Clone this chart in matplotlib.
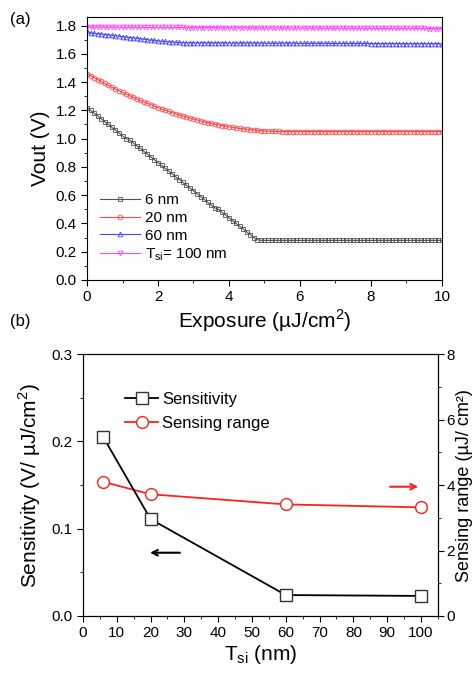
import numpy as np
import matplotlib
matplotlib.use("Agg")
import matplotlib.pyplot as plt
from matplotlib.ticker import MultipleLocator

plt.rcParams['font.family'] = ['Liberation Sans', 'DejaVu Sans']
plt.rcParams['mathtext.fontset'] = 'custom'
plt.rcParams['mathtext.rm'] = 'Liberation Sans'

# ---- panel (a): Vout vs exposure, sampled every 0.1 uJ/cm2 ----
exposure = np.round(np.arange(0, 101) * 0.1, 1)

vout_6nm = [
    1.22, 1.20, 1.18, 1.16, 1.14, 1.12, 1.10, 1.08, 1.06, 1.04,
    1.02, 1.00, 0.99, 0.97, 0.95, 0.93, 0.91, 0.89, 0.87, 0.85,
    0.83, 0.81, 0.79, 0.77, 0.75, 0.73, 0.71, 0.69, 0.67, 0.65,
    0.63, 0.61, 0.59, 0.57, 0.55, 0.53, 0.51, 0.50, 0.48, 0.46,
    0.44, 0.42, 0.40, 0.38, 0.36, 0.34, 0.32, 0.30, 0.285, 0.28,
    0.28, 0.28, 0.28, 0.28, 0.28, 0.28, 0.28, 0.28, 0.28, 0.28,
    0.28, 0.28, 0.28, 0.28, 0.28, 0.28, 0.28, 0.28, 0.28, 0.28,
    0.28, 0.28, 0.28, 0.28, 0.28, 0.28, 0.28, 0.28, 0.28, 0.28,
    0.28, 0.28, 0.28, 0.28, 0.28, 0.28, 0.28, 0.28, 0.28, 0.28,
    0.28, 0.28, 0.28, 0.28, 0.28, 0.28, 0.28, 0.28, 0.28, 0.28,
    0.28,
]
vout_20nm = [
    1.460, 1.446, 1.431, 1.417, 1.404, 1.390, 1.377, 1.364, 1.351, 1.339,
    1.327, 1.315, 1.303, 1.292, 1.281, 1.270, 1.259, 1.249, 1.239, 1.229,
    1.219, 1.210, 1.201, 1.192, 1.184, 1.176, 1.168, 1.160, 1.153, 1.145,
    1.138, 1.132, 1.125, 1.119, 1.113, 1.108, 1.102, 1.097, 1.092, 1.088,
    1.083, 1.079, 1.076, 1.072, 1.069, 1.066, 1.063, 1.061, 1.058, 1.056,
    1.055, 1.053, 1.052, 1.051, 1.051, 1.050, 1.050, 1.050, 1.050, 1.050,
    1.050, 1.050, 1.050, 1.050, 1.050, 1.050, 1.050, 1.050, 1.050, 1.050,
    1.050, 1.050, 1.050, 1.050, 1.050, 1.050, 1.050, 1.050, 1.050, 1.050,
    1.050, 1.050, 1.050, 1.050, 1.050, 1.050, 1.050, 1.050, 1.050, 1.050,
    1.050, 1.050, 1.050, 1.050, 1.050, 1.050, 1.050, 1.050, 1.050, 1.050,
    1.050,
]
vout_60nm = [
    1.760, 1.748, 1.745, 1.742, 1.739, 1.736, 1.733, 1.730, 1.727, 1.724,
    1.721, 1.718, 1.715, 1.712, 1.709, 1.706, 1.703, 1.700, 1.697, 1.694,
    1.691, 1.689, 1.687, 1.685, 1.683, 1.681, 1.680, 1.679, 1.678, 1.678,
    1.677, 1.677, 1.677, 1.677, 1.677, 1.677, 1.677, 1.677, 1.677, 1.677,
    1.676, 1.676, 1.676, 1.676, 1.676, 1.676, 1.676, 1.676, 1.676, 1.676,
    1.675, 1.675, 1.675, 1.675, 1.675, 1.675, 1.675, 1.675, 1.675, 1.675,
    1.674, 1.674, 1.674, 1.674, 1.674, 1.674, 1.674, 1.674, 1.674, 1.674,
    1.673, 1.673, 1.673, 1.673, 1.673, 1.673, 1.673, 1.673, 1.673, 1.673,
    1.672, 1.672, 1.672, 1.672, 1.672, 1.672, 1.672, 1.672, 1.672, 1.672,
    1.671, 1.671, 1.671, 1.671, 1.671, 1.671, 1.671, 1.671, 1.671, 1.671,
    1.670,
]
vout_100nm = [
    1.790, 1.790, 1.789, 1.789, 1.789, 1.789, 1.789, 1.788, 1.788, 1.788,
    1.788, 1.788, 1.788, 1.787, 1.787, 1.787, 1.787, 1.787, 1.787, 1.787,
    1.786, 1.786, 1.786, 1.786, 1.786, 1.786, 1.786, 1.786, 1.785, 1.785,
    1.785, 1.785, 1.785, 1.785, 1.785, 1.785, 1.785, 1.784, 1.784, 1.784,
    1.784, 1.784, 1.784, 1.784, 1.784, 1.784, 1.783, 1.783, 1.783, 1.783,
    1.783, 1.783, 1.783, 1.783, 1.783, 1.783, 1.782, 1.782, 1.782, 1.782,
    1.782, 1.782, 1.782, 1.782, 1.782, 1.782, 1.781, 1.781, 1.781, 1.781,
    1.781, 1.781, 1.781, 1.781, 1.781, 1.781, 1.780, 1.780, 1.780, 1.780,
    1.780, 1.780, 1.780, 1.780, 1.780, 1.780, 1.779, 1.779, 1.779, 1.779,
    1.779, 1.779, 1.779, 1.779, 1.779, 1.779, 1.778, 1.778, 1.778, 1.778,
    1.778,
]
series_a = [vout_6nm, vout_20nm, vout_60nm, vout_100nm]
labels_a = ["6 nm", "20 nm", "60 nm", "T$_{\\mathregular{si}}$= 100 nm"]
colors_a = ["#505050", "#ff4848", "#4848ff", "#ff48ff"]
markers_a = ["s", "o", "^", "v"]

# ---- panel (b): sensitivity and sensing range vs Tsi ----
tsi = [6, 20, 60, 100]
sensitivity = [0.205, 0.111, 0.024, 0.023]
sensing_range = [4.10, 3.72, 3.41, 3.32]

fig = plt.figure(figsize=(4.77, 6.73), dpi=100)

ax1 = fig.add_axes([0.1824, 0.5840, 0.7442, 0.3907])
for y, lab, c, m in zip(series_a, labels_a, colors_a, markers_a):
    ax1.plot(exposure, y, color=c, lw=0.8, marker=m, ms=3.4, mfc='none',
             mew=0.6, label=lab)
ax1.set_xlim(0, 10)
ax1.set_ylim(0, 1.86)
ax1.xaxis.set_major_locator(MultipleLocator(2))
ax1.xaxis.set_minor_locator(MultipleLocator(1))
ax1.yaxis.set_major_locator(MultipleLocator(0.2))
ax1.yaxis.set_minor_locator(MultipleLocator(0.1))
ax1.yaxis.set_major_formatter(plt.FormatStrFormatter('%.1f'))
ax1.tick_params(which='both', direction='out', labelsize=11, top=False, right=False)
ax1.tick_params(which='major', length=4)
ax1.tick_params(which='minor', length=2.5)
ax1.set_xlabel("Exposure (µJ/cm$^{\\mathregular{2}}$)", fontsize=15, labelpad=2)
ax1.set_ylabel("Vout (V)", fontsize=15, labelpad=4)
ax1.legend(loc='lower left', bbox_to_anchor=(0.02, 0.04), frameon=False,
           fontsize=11, handlelength=2.6, handletextpad=0.3, labelspacing=0.25,
           borderaxespad=0)

ax2 = fig.add_axes([0.174, 0.0847, 0.744, 0.389])
ax3 = ax2.twinx()
l1, = ax2.plot(tsi, sensitivity, color='black', lw=1.3, marker='s', ms=8,
               mfc='white', mec='#333333', mew=1.0, label="Sensitivity")
l2, = ax3.plot(tsi, sensing_range, color='#ff2020', lw=1.3, marker='o', ms=8.5,
               mfc='white', mec='#ff2020', mew=1.0, label="Sensing range")
ax2.set_zorder(ax3.get_zorder() + 1)
ax2.patch.set_visible(False)
ax2.set_xlim(0, 105)
ax2.set_ylim(0, 0.3)
ax3.set_ylim(0, 8)
ax2.xaxis.set_major_locator(MultipleLocator(10))
ax2.xaxis.set_minor_locator(MultipleLocator(5))
ax2.yaxis.set_major_locator(MultipleLocator(0.1))
ax2.yaxis.set_minor_locator(MultipleLocator(0.05))
ax3.yaxis.set_major_locator(MultipleLocator(2))
ax3.yaxis.set_minor_locator(MultipleLocator(1))
ax2.yaxis.set_major_formatter(plt.FormatStrFormatter('%.1f'))
for a in (ax2, ax3):
    a.tick_params(which='both', direction='out', labelsize=11)
    a.tick_params(which='major', length=4)
    a.tick_params(which='minor', length=2.5)
ax3.tick_params(axis='y', pad=2)
ax2.set_xlabel("T$_{\\mathregular{si}}$ (nm)", fontsize=15, labelpad=2)
ax2.set_ylabel("Sensitivity (V/ µJ/cm$^{\\mathregular{2}}$)", fontsize=15, labelpad=6)
ax3.set_ylabel("Sensing range (µJ/ cm²)", fontsize=13)
ax3.yaxis.set_label_coords(1.05, 0.5)
ax2.legend([l1, l2], ["Sensitivity", "Sensing range"], loc='upper left',
           bbox_to_anchor=(0.1, 0.88), frameon=False, fontsize=12,
           handlelength=2.0, handletextpad=0.2, labelspacing=0.5, borderaxespad=0)

ax2.annotate("", xy=(19, 0.0725), xytext=(29.5, 0.0725),
             arrowprops=dict(arrowstyle='->', color='black', lw=1.5))
ax3.annotate("", xy=(100, 3.95), xytext=(90, 3.95),
             arrowprops=dict(arrowstyle='->', color='#ff2020', lw=1.5))

fig.text(0.02, 0.965, "(a)", fontsize=12)
fig.text(0.02, 0.515, "(b)", fontsize=12)

fig.savefig("out.png", dpi=100)
